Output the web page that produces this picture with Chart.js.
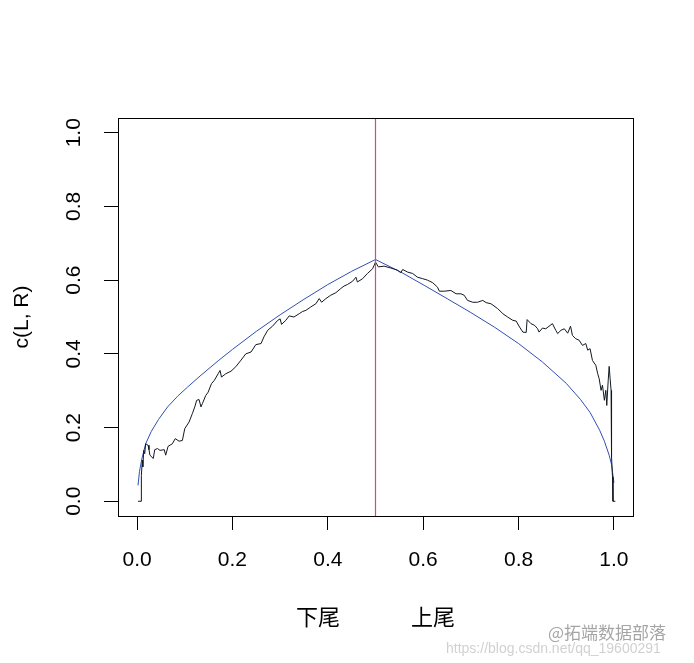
<!DOCTYPE html>
<html>
<head>
<meta charset="utf-8">
<script src="https://cdn.jsdelivr.net/npm/chart.js@4"></script>
<style>
  body { margin: 0; background: #fff; }
</style>
</head>
<body>
<canvas id="tailChart" width="694" height="663"></canvas>
<script>
// empirical c(L, R) curve (black)
const empX = [0.002, 0.009, 0.009, 0.011, 0.012, 0.014, 0.016, 0.018, 0.023, 0.025, 0.027, 0.034, 0.037, 0.043, 0.048, 0.057, 0.06, 0.065, 0.074, 0.08, 0.088, 0.095, 0.1, 0.109, 0.116, 0.121, 0.125, 0.13, 0.134, 0.137, 0.144, 0.149, 0.156, 0.162, 0.17, 0.174, 0.177, 0.186, 0.197, 0.207, 0.218, 0.228, 0.239, 0.249, 0.26, 0.266, 0.274, 0.284, 0.295, 0.3, 0.303, 0.312, 0.319, 0.329, 0.34, 0.347, 0.354, 0.364, 0.375, 0.382, 0.387, 0.396, 0.406, 0.417, 0.427, 0.434, 0.441, 0.452, 0.459, 0.462, 0.473, 0.483, 0.494, 0.5,
  0.506, 0.518, 0.532, 0.546, 0.553, 0.557, 0.567, 0.578, 0.588, 0.599, 0.609, 0.62, 0.63, 0.634, 0.644, 0.658, 0.669, 0.679, 0.686, 0.693, 0.704, 0.714, 0.725, 0.732, 0.742, 0.756, 0.767, 0.777, 0.788, 0.795, 0.802, 0.809, 0.816, 0.818, 0.826, 0.834, 0.84, 0.843, 0.85, 0.857, 0.866, 0.871, 0.878, 0.882, 0.889, 0.896, 0.903, 0.909, 0.913, 0.92, 0.927, 0.934, 0.941, 0.945, 0.95, 0.955, 0.962, 0.966, 0.969, 0.973, 0.976, 0.98, 0.983, 0.985, 0.988, 0.99, 0.992, 0.994, 0.995, 0.997, 0.998, 1.003];
const empY = [0.0, 0.0, 0.07, 0.111, 0.093, 0.138, 0.129, 0.156, 0.152, 0.14, 0.125, 0.116, 0.14, 0.143, 0.138, 0.14, 0.125, 0.149, 0.156, 0.17, 0.163, 0.165, 0.197, 0.215, 0.238, 0.256, 0.274, 0.276, 0.256, 0.265, 0.287, 0.296, 0.319, 0.328, 0.346, 0.355, 0.337, 0.346, 0.353, 0.365, 0.383, 0.4, 0.405, 0.425, 0.428, 0.446, 0.464, 0.475, 0.491, 0.495, 0.48, 0.491, 0.503, 0.5, 0.509, 0.515, 0.518, 0.527, 0.536, 0.55, 0.54, 0.55, 0.559, 0.566, 0.577, 0.584, 0.588, 0.597, 0.608, 0.595, 0.604, 0.618, 0.631, 0.649,
  0.636, 0.638, 0.633, 0.627, 0.62, 0.629, 0.622, 0.618, 0.608, 0.604, 0.6, 0.593, 0.581, 0.57, 0.57, 0.572, 0.563, 0.563, 0.559, 0.545, 0.54, 0.54, 0.545, 0.539, 0.536, 0.523, 0.509, 0.5, 0.491, 0.489, 0.473, 0.459, 0.458, 0.493, 0.482, 0.477, 0.468, 0.459, 0.47, 0.468, 0.477, 0.482, 0.464, 0.455, 0.464, 0.468, 0.456, 0.475, 0.45, 0.441, 0.437, 0.423, 0.428, 0.41, 0.414, 0.382, 0.369, 0.346, 0.333, 0.301, 0.315, 0.274, 0.301, 0.26, 0.328, 0.366, 0.333, 0.301, 0.12, 0.066, 0.0, 0.0];

// theoretical curve (blue)
const theoX = [0.002, 0.005, 0.01, 0.018, 0.03, 0.045, 0.064, 0.085, 0.106, 0.134, 0.17, 0.2, 0.25, 0.3, 0.35, 0.4, 0.45, 0.5,
  0.553, 0.602, 0.65, 0.7, 0.75, 0.8, 0.85, 0.9, 0.93, 0.95, 0.97, 0.98, 0.99, 0.995, 1.0];
const theoY = [0.043, 0.08, 0.115, 0.156, 0.19, 0.222, 0.256, 0.285, 0.31, 0.342, 0.381, 0.412, 0.461, 0.506, 0.548, 0.588, 0.624, 0.656,
  0.622, 0.586, 0.55, 0.512, 0.472, 0.428, 0.378, 0.32, 0.276, 0.241, 0.193, 0.163, 0.125, 0.1, 0.05];

const splitAt = 0.5;
const tickVals = [0, 0.2, 0.4, 0.6, 0.8, 1.0];
const axisMin = -0.04, axisMax = 1.04;

const toPoints = (xs, ys) => xs.map((x, i) => ({ x: x, y: ys[i] }));

// box around the plot region, like R's box()
const boxPlugin = {
    id: "box",
    afterDatasetsDraw(chart) {
        const a = chart.chartArea;
        const ctx = chart.ctx;
        ctx.save();
        ctx.strokeStyle = "#000";
        ctx.lineWidth = 1;
        ctx.strokeRect(Math.round(a.left) + 0.5, Math.round(a.top) + 0.5, Math.round(a.right - a.left), Math.round(a.bottom - a.top));
        ctx.restore();
    }
};

// faint watermark of the source image
const markPlugin = {
    id: "mark",
    afterDraw(chart) {
        const ctx = chart.ctx;
        ctx.save();
        ctx.fillStyle = "rgba(90,90,90,0.55)";
        ctx.font = "17px 'Noto Sans CJK SC'";
        ctx.textBaseline = "middle";
        ctx.fillText("@拓端数据部落", 548, 633);
        ctx.fillStyle = "rgba(150,150,150,0.45)";
        ctx.font = "14px 'Liberation Sans'";
        ctx.fillText("https://blog.csdn.net/qq_19600291", 446, 649);
        ctx.restore();
    }
};

const ctx = document.getElementById("tailChart").getContext("2d");

new Chart(ctx, {
    type: "line",
    data: {
        datasets: [
            {
                label: "abline",
                data: [{ x: splitAt, y: axisMin }, { x: splitAt, y: axisMax }],
                borderColor: "#d4468e",
                borderWidth: 1.2,
                pointRadius: 0
            },
            {
                label: "empirical",
                data: toPoints(empX, empY),
                borderColor: "#111820",
                borderWidth: 1,
                pointRadius: 0,
                tension: 0
            },
            {
                label: "theoretical",
                data: toPoints(theoX, theoY),
                borderColor: "#2f4fb5",
                borderWidth: 1,
                pointRadius: 0,
                tension: 0
            }
        ]
    },
    options: {
        responsive: false,
        animation: false,
        layout: { padding: { top: 118, right: 61, left: 0, bottom: 0 } },
        plugins: {
            legend: { display: false },
            tooltip: { enabled: false }
        },
        scales: {
            x: {
                type: "linear",
                min: axisMin,
                max: axisMax,
                afterBuildTicks: s => { s.ticks = tickVals.map(v => ({ value: v })); },
                afterFit: s => { s.height = 147; },
                border: { display: false },
                grid: { drawOnChartArea: false, drawTicks: true, tickLength: 14, color: "#000" },
                ticks: {
                    padding: 18,
                    color: "#000",
                    font: { family: "'Liberation Sans', Arial", size: 21 },
                    maxRotation: 0,
                    callback: v => v.toFixed(1)
                },
                title: {
                    display: true,
                    text: "下尾\u3000\u3000\u3000 上尾",
                    color: "#000",
                    font: { family: "'Noto Sans CJK SC'", size: 22 },
                    padding: { top: 0, bottom: 33 }
                }
            },
            y: {
                type: "linear",
                min: axisMin,
                max: axisMax,
                afterBuildTicks: s => { s.ticks = tickVals.map(v => ({ value: v })); },
                afterFit: s => { s.width = 118; },
                border: { display: false },
                grid: { drawOnChartArea: false, drawTicks: true, tickLength: 14, color: "#000" },
                ticks: {
                    padding: 15,
                    color: "#000",
                    crossAlign: "center",
                    minRotation: 90,
                    maxRotation: 90,
                    font: { family: "'Liberation Sans', Arial", size: 21 },
                    callback: v => v.toFixed(1)
                },
                title: {
                    display: true,
                    text: "c(L, R)",
                    color: "#000",
                    font: { family: "'Liberation Sans', Arial", size: 21 },
                    padding: { top: 10, bottom: 0 }
                }
            }
        }
    },
    plugins: [boxPlugin, markPlugin]
});
</script>
</body>
</html>
